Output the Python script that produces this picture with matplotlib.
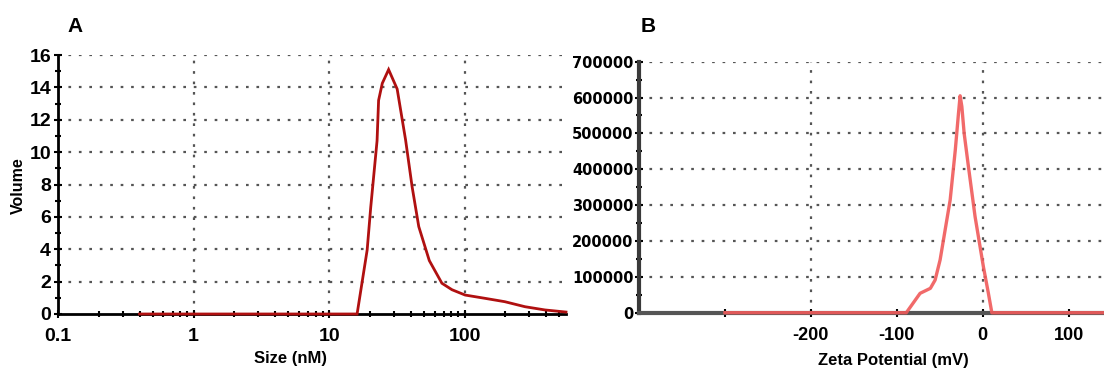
import matplotlib
matplotlib.use("Agg")
import matplotlib.pyplot as plt
from matplotlib.ticker import FixedLocator, NullFormatter, FixedFormatter, MultipleLocator
import numpy as np

# ---- Data: panel A (size distribution by volume) ----
size_nm = [0.4, 16.1, 19.1, 20.3, 22.6, 23.2, 24.7, 27.5, 31.8, 36.7, 41.0, 45.9,
           54.9, 68.0, 80.7, 101.0, 141.0, 198.0, 279.0, 392.0, 560.0]
volume = [0.0, 0.0, 3.95, 6.6, 10.7, 13.2, 14.25, 15.1, 13.9, 10.75, 7.86, 5.4,
          3.3, 1.9, 1.5, 1.17, 0.97, 0.76, 0.45, 0.25, 0.12]
a_xticks = [0.1, 1, 10, 100]
a_xticklabels = ["0.1", "1", "10", "100"]

# ---- Data: panel B (zeta potential distribution) ----
zeta_mv = [-300, -89, -73, -61, -55.5, -49.7, -38, -32, -28.3, -26.4, -24.4, -21.7,
           -16.7, -9, 0.7, 6.5, 10.5, 145]
counts = [0, 0, 54000, 68000, 91000, 147000, 314000, 454000, 556000, 605000, 575000,
          500000, 407000, 268000, 128000, 54000, 0, 0]
b_xticks = [-300, -200, -100, 0, 100]
b_xticklabels = ["", "-200", "-100", "0", "100"]
b_yticks = [0, 100000, 200000, 300000, 400000, 500000, 600000, 700000]

W, H = 1104, 371
fig = plt.figure(figsize=(W / 100, H / 100), dpi=100)

def ax_rect(l, t, r, b):
    return [l / W, 1 - b / H, (r - l) / W, (b - t) / H]

ARIAL = "Liberation Sans"
grid_kw = dict(color="#555555", lw=1.6, ls=(0, (1.2, 3.5)), zorder=0)

# ================= Panel A =================
axA = fig.add_axes(ax_rect(58, 55, 566, 314))
axA.set_xscale("log")
axA.set_xlim(0.1, 560)
axA.set_ylim(0, 16)
for s in ["top", "right"]:
    axA.spines[s].set_visible(False)
axA.spines["left"].set_linewidth(2)
axA.spines["bottom"].set_linewidth(2)
axA.spines["left"].set_color("black")
axA.spines["bottom"].set_color("black")

axA.xaxis.set_major_locator(FixedLocator(a_xticks))
axA.xaxis.set_major_formatter(FixedFormatter(a_xticklabels))
minors = [m * 10.0 ** e for e in range(-1, 3) for m in range(2, 10)]
axA.xaxis.set_minor_locator(FixedLocator([v for v in minors if v < 560]))
axA.xaxis.set_minor_formatter(NullFormatter())
axA.yaxis.set_major_locator(MultipleLocator(2))
axA.yaxis.set_minor_locator(MultipleLocator(1))
axA.tick_params(axis="both", which="major", direction="inout", length=6, width=1.5,
                color="black")
axA.tick_params(axis="both", which="minor", direction="inout", length=4, width=1.5,
                color="black")
axA.tick_params(axis="y", which="major", pad=2)
axA.tick_params(axis="x", which="major", pad=7)
for lab in axA.get_xticklabels() + axA.get_yticklabels():
    lab.set_fontfamily(ARIAL)
    lab.set_fontweight("bold")
    lab.set_fontsize(14)

for yv in range(2, 17, 2):
    axA.axhline(yv, **grid_kw)
for xv in [1, 10, 100]:
    axA.axvline(xv, **grid_kw)

axA.plot(size_nm, volume, color="#b01010", lw=2.0, zorder=3, clip_on=False,
         solid_joinstyle="miter")

fig.text(18 / W, 1 - 186 / H, "Volume", rotation=90, ha="center", va="center",
         fontfamily=ARIAL, fontweight="bold", fontsize=11.5)
fig.text(291 / W, 1 - 358 / H, "Size (nM)", ha="center", va="center",
         fontfamily=ARIAL, fontweight="bold", fontsize=12)
fig.text(75 / W, 1 - 27 / H, "A", ha="center", va="center",
         fontfamily=ARIAL, fontweight="bold", fontsize=15)

# ================= Panel B =================
axB = fig.add_axes(ax_rect(639, 61.7, 1104, 312.7))
axB.set_xlim(-400, 141)
axB.set_ylim(0, 700000)
for s in ["top", "right"]:
    axB.spines[s].set_visible(False)
axB.spines["left"].set_linewidth(3)
axB.spines["bottom"].set_linewidth(3)
axB.spines["left"].set_color("#3a3a3a")
axB.spines["bottom"].set_color("#555555")

axB.xaxis.set_major_locator(FixedLocator(b_xticks))
axB.xaxis.set_major_formatter(FixedFormatter(b_xticklabels))
axB.yaxis.set_major_locator(FixedLocator(b_yticks))
axB.yaxis.set_minor_locator(MultipleLocator(50000))
axB.yaxis.set_major_formatter(FixedFormatter([str(v) for v in b_yticks]))
axB.tick_params(axis="both", which="major", direction="inout", length=6, width=1.5,
                color="black")
axB.tick_params(axis="y", which="minor", direction="inout", length=4, width=1.5,
                color="black")
axB.tick_params(axis="y", which="major", pad=1)
axB.tick_params(axis="x", which="major", pad=7)
for lab in axB.get_xticklabels():
    lab.set_fontfamily(ARIAL)
    lab.set_fontweight("bold")
    lab.set_fontsize(13)
for lab in axB.get_yticklabels():
    lab.set_fontfamily("DejaVu Sans")
    lab.set_fontweight("bold")
    lab.set_fontsize(10.5)

for yv in b_yticks[1:]:
    axB.axhline(yv, **grid_kw)
for xv in [-200, 0]:
    axB.axvline(xv, **grid_kw)

axB.plot(zeta_mv, counts, color="#f05a5a", lw=2.4, alpha=0.9, zorder=3, clip_on=False)

fig.text(893 / W, 1 - 361 / H, "Zeta Potential (mV)", ha="center", va="center",
         fontfamily=ARIAL, fontweight="bold", fontsize=12)
fig.text(648 / W, 1 - 26 / H, "B", ha="center", va="center",
         fontfamily=ARIAL, fontweight="bold", fontsize=15)

fig.savefig("out.png", dpi=100)
